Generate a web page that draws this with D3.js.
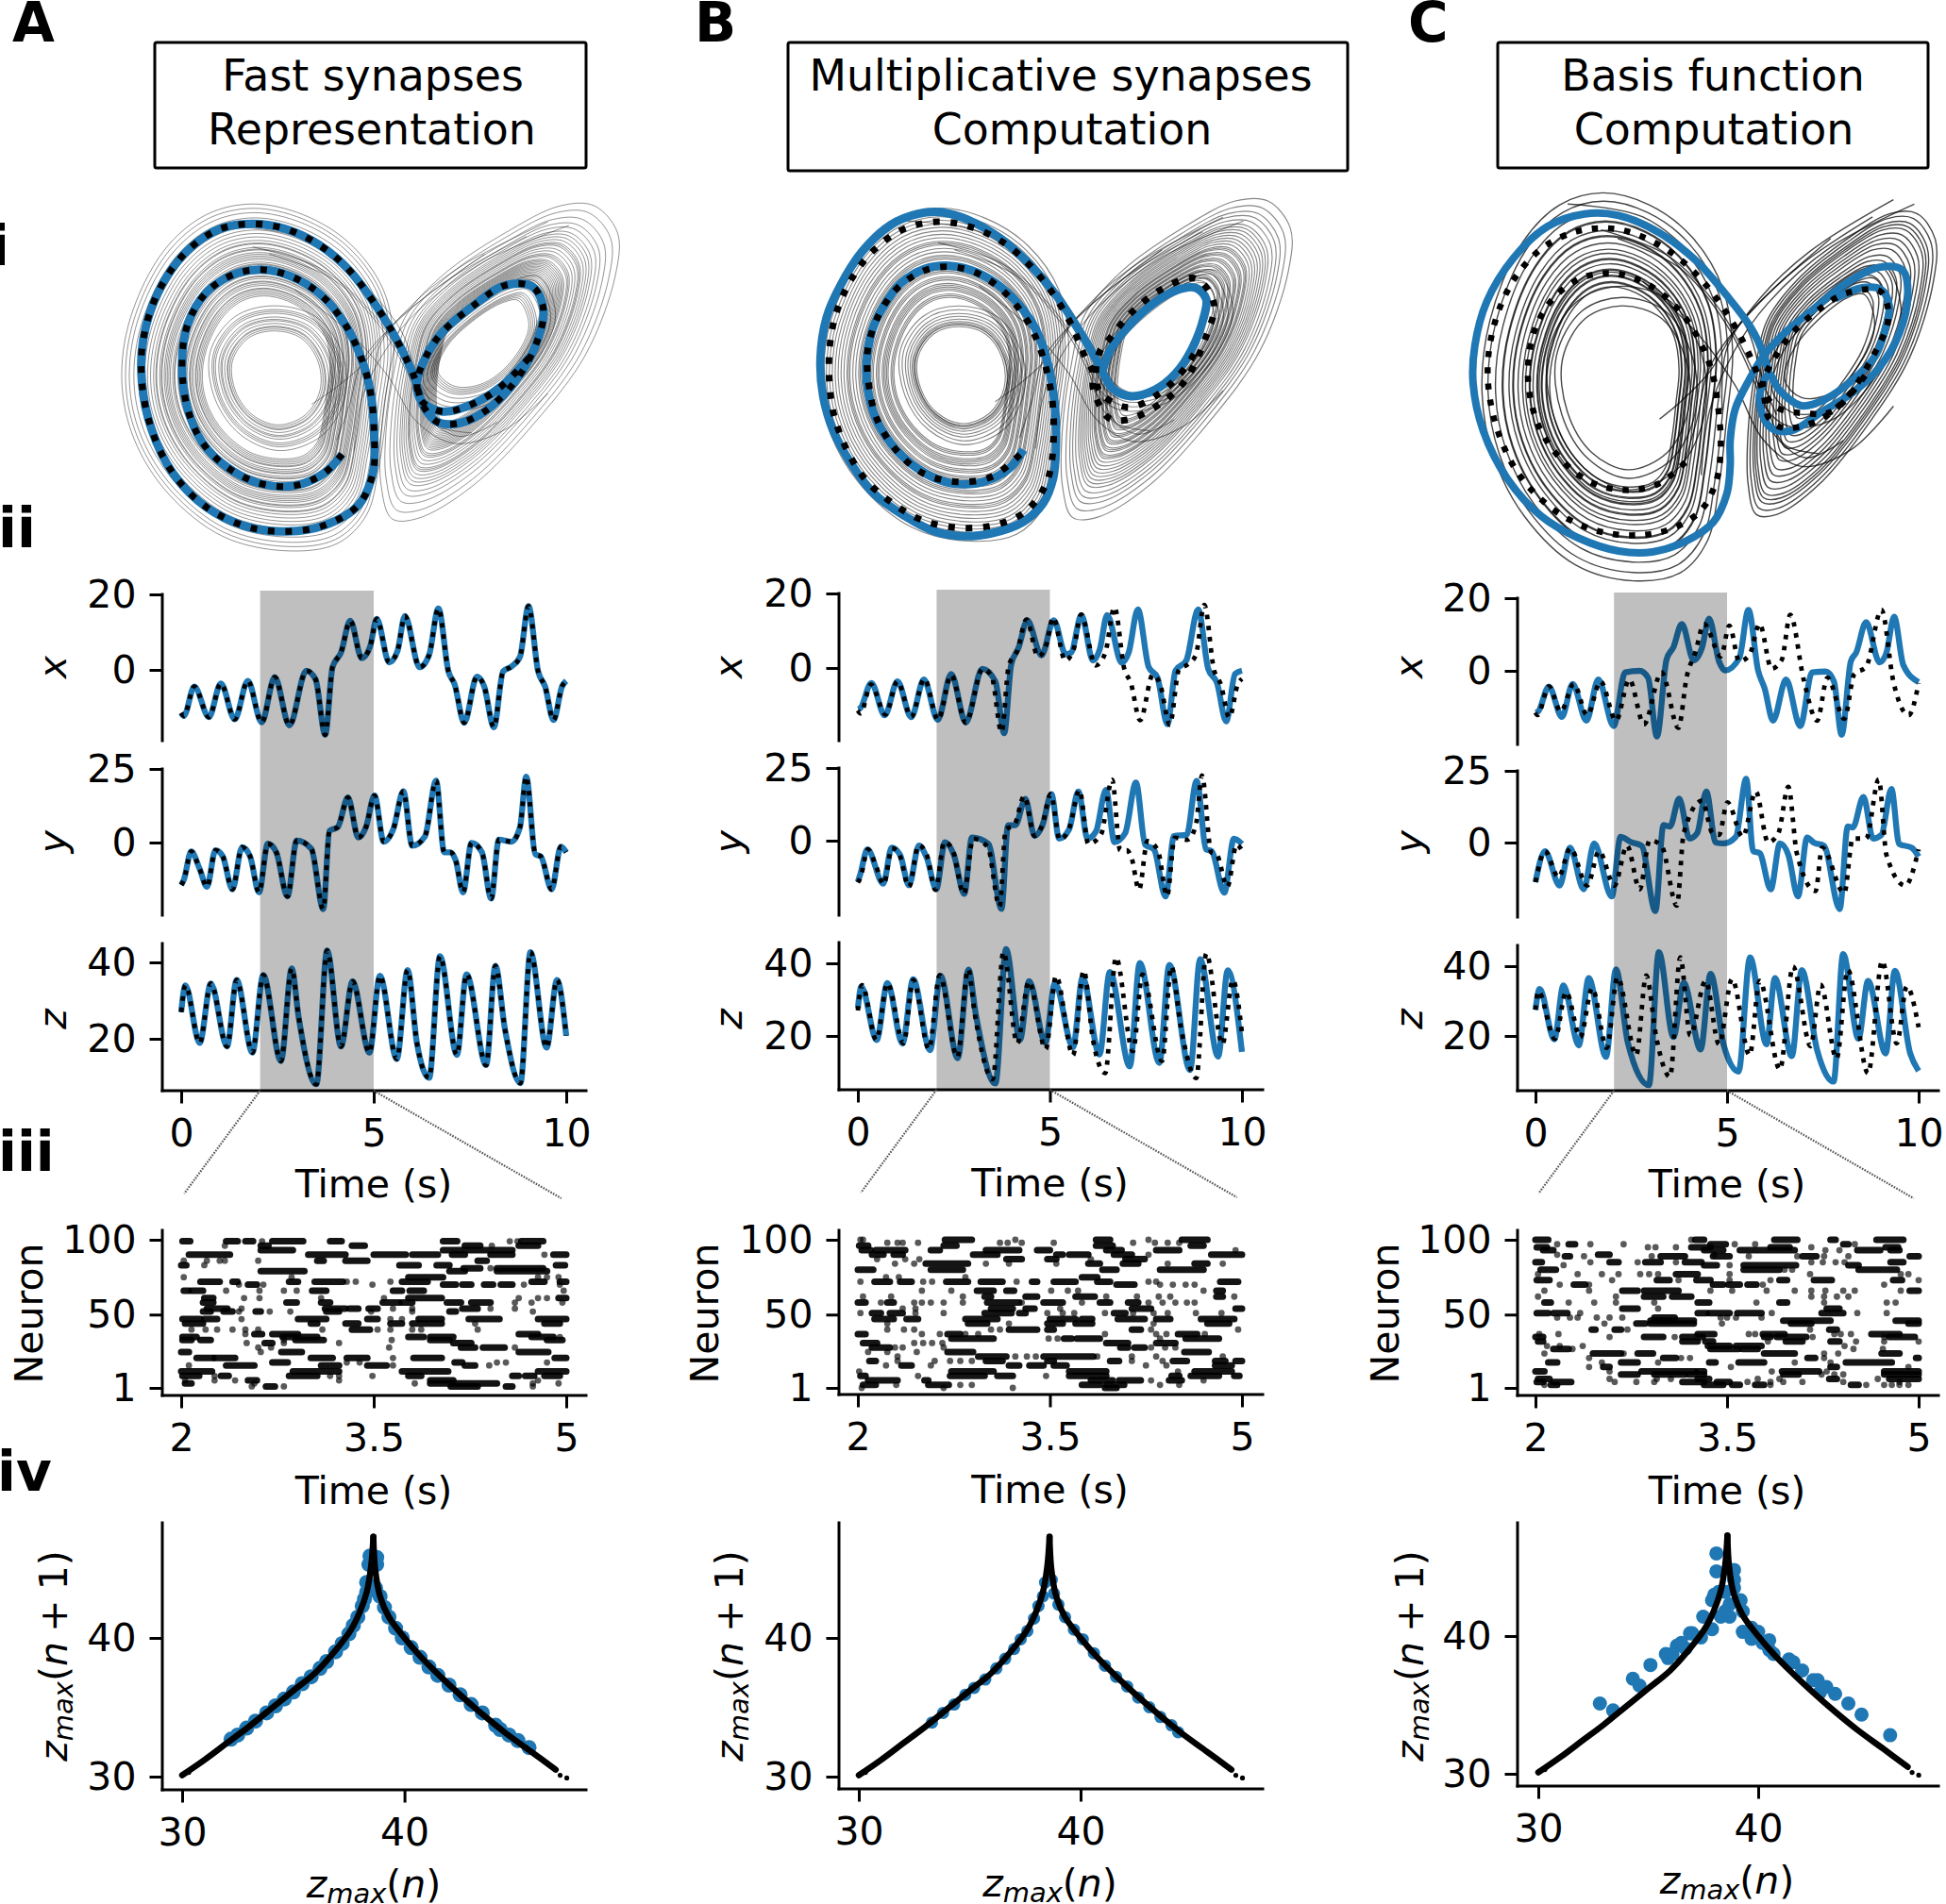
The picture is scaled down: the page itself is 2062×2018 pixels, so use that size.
<!DOCTYPE html>
<html>
<head>
<meta charset="utf-8">
<script src="https://cdn.jsdelivr.net/npm/d3@7"></script>
<style>
  body { margin: 0; background: #fff; }
  svg { display: block; }
  text { font-family: "DejaVu Sans", sans-serif; fill: #000; }
</style>
</head>
<body>
<script>
// time series, [t, value]. A and B share the same target trajectory
var trueX = [[0,-11.4],[.07,-12.2],[.34,-4.4],[.72,-12.5],[1.03,-3.6],[1.39,-13.1],[1.73,-2.9],[2.09,-13.9],[2.43,-1.9],[2.81,-14.7],[3.25,-.2],[3.49,-2.5],[3.74,-17.2],[3.93,.7],[4.15,4.6],[4.39,13],[4.69,3.1],[4.91,6.3],[5.08,13.5],[5.4,2],[5.62,5.1],[5.81,14.3],[6.19,.7],[6.44,4],[6.68,16.3],[6.94,-.4],[7.1,-3.8],[7.35,-14],[7.68,-1.8],[7.87,-4.4],[8.12,-15.2],[8.36,-.4],[8.58,.9],[8.8,3.5],[9.02,16.9],[9.27,-.4],[9.45,-4.4],[9.67,-13.3],[9.89,-4.4],[10,-2.9]];
var trueY = [[0,-14.4],[.07,-12.6],[.26,-3],[.48,-9],[.67,-15],[.89,-2.6],[1.08,-4.7],[1.33,-15.9],[1.58,-1.6],[1.79,-4.7],[2.02,-16.9],[2.25,-.4],[2.47,-3.3],[2.76,-18.3],[3,.7],[3.38,-2.1],[3.69,-22.6],[3.85,3.9],[4.07,5.3],[4.33,15.3],[4.6,1.7],[4.8,5.3],[5.02,16],[5.26,.3],[5.51,4.6],[5.77,17.4],[6,-1.1],[6.33,2.1],[6.62,21],[6.83,-3.3],[7,-3.3],[7.13,-6.1],[7.32,-16.9],[7.54,-.1],[7.81,-3.3],[8.05,-19],[8.25,1],[8.58,.3],[8.8,5.3],[8.96,22.4],[9.2,-4],[9.34,-4.7],[9.62,-15.9],[9.86,-1.4],[10,-3.3]];
var trueZ = [[0,27],[.11,34],[.48,18.9],[.77,34.5],[1.19,18],[1.44,35.4],[1.85,16.4],[2.13,36.7],[2.59,14.2],[2.87,38.4],[3.05,25.7],[3.51,8.1],[3.79,43.1],[4.15,18],[4.45,35],[4.89,16.4],[5.16,36.5],[5.6,14.7],[5.88,38],[6.12,19],[6.44,9.8],[6.72,41.6],[7.16,15.8],[7.41,36.9],[7.92,13.1],[8.16,39.1],[8.41,22.4],[8.81,8.4],[9.07,42.7],[9.49,17.7],[9.76,35.4],[10,20.8]];

var predXB = [[0,-11],[.06,-10.8],[.35,-4],[.7,-12.7],[1.03,-3.6],[1.39,-13.2],[1.72,-3.1],[2.08,-13.9],[2.43,-1.6],[2.81,-14.6],[3.24,-.2],[3.58,-3.6],[3.81,-17.5],[3.99,.8],[4.19,5.6],[4.41,12.8],[4.78,3.4],[5.1,12.8],[5.41,3.7],[5.55,4.1],[5.82,14.2],[6.12,2],[6.3,5.1],[6.49,14.2],[6.87,1.4],[7.05,4.1],[7.29,15.7],[7.57,.3],[7.8,-2.6],[8.06,-15.1],[8.27,-.7],[8.55,2],[8.86,15.7],[9.12,-.2],[9.35,-4],[9.59,-14.3],[9.82,-1.6],[10,-.7]];
var predYB = [[0,-14.2],[.06,-11.7],[.25,-3],[.66,-14.8],[.88,-2.4],[1.1,-4.9],[1.33,-15.4],[1.59,-1.7],[1.8,-6.1],[2.04,-16.7],[2.27,-.5],[2.5,-4.9],[2.77,-18.3],[2.97,1.1],[3.4,-1.1],[3.74,-23.5],[3.91,5.3],[4.1,5.3],[4.36,14.4],[4.6,1.6],[4.8,5.1],[5.04,16],[5.24,.7],[5.5,3.9],[5.74,16.9],[5.98,.7],[6.2,3.2],[6.46,17.5],[6.68,-.5],[6.96,2.6],[7.24,20],[7.48,-1.4],[7.71,-3],[8.01,-19.2],[8.23,1.6],[8.56,2],[8.82,20.6],[9.07,-3],[9.21,-3.6],[9.54,-17.9],[9.79,.7],[10,-1.1]];
var predZB = [[0,27.6],[.09,33.6],[.49,18.9],[.77,34.6],[1.16,17.9],[1.44,35.6],[1.88,16.1],[2.15,36.6],[2.6,13.9],[2.88,38.3],[3.07,26],[3.58,6.9],[3.86,43.9],[4.22,18.9],[4.46,35.1],[4.88,18.1],[5.13,34.6],[5.6,16.9],[5.85,36.1],[6.29,14.9],[6.56,37.6],[7.08,11.6],[7.34,40.1],[7.85,12.6],[8.11,39.6],[8.65,10.6],[8.91,41.1],[9.38,14.3],[9.63,38.1],[10,15.6]];

var predXC = [[0,-11.5],[.07,-11.2],[.35,-4.3],[.69,-12.7],[.97,-3.6],[1.33,-13.7],[1.64,-2.4],[2.04,-15.2],[2.34,-.4],[2.72,0],[2.94,-1.9],[3.17,-18.1],[3.42,3.1],[3.6,6.5],[3.82,12.9],[4.13,2.9],[4.35,6.5],[4.53,14.4],[4.79,2.6],[4.95,.1],[5.32,3.5],[5.56,16.8],[5.81,.1],[5.98,-4.8],[6.2,-13.7],[6.54,-2.4],[6.91,-15.2],[7.22,-.4],[7.57,-.2],[7.79,-2.9],[7.99,-17.6],[8.23,2.6],[8.37,5],[8.63,13.4],[8.98,2.3],[9.16,5],[9.36,14.9],[9.6,1.6],[10,-3.1]];
var trueXC = [[0,-11.5],[.05,-12.2],[.35,-4.3],[.66,-11.2],[1,-3.6],[1.35,-12.2],[1.7,-2.9],[2.1,-13.7],[2.45,-2.4],[2.83,-14.7],[3.29,-.4],[3.73,-15.7],[3.95,-1.5],[4.17,5],[4.4,12.9],[4.84,4],[5.06,12.4],[5.32,2.6],[5.59,4.5],[5.85,12.9],[6.16,.6],[6.43,3.1],[6.65,15.4],[7,-2.4],[7.35,-13.7],[7.62,-1.9],[8.06,-13.2],[8.32,-.9],[8.63,1.1],[9.03,16.8],[9.34,-2.9],[9.74,-12.2],[10,-3.4]];
var predYC = [[0,-13.8],[.25,-3],[.63,-15],[.9,-1.8],[1.26,-16.3],[1.53,-.3],[1.99,-18.8],[2.22,2],[2.5,.1],[2.77,-1.1],[3.13,-23.9],[3.34,6.1],[3.51,5.6],[3.75,15.3],[4.02,1.4],[4.22,3.3],[4.46,17.8],[4.7,0],[4.92,-.3],[5.23,2],[5.5,22.2],[5.68,-3],[5.85,-3.7],[6.14,-16.3],[6.38,-.3],[6.6,-4.3],[6.85,-18.8],[7.09,1.8],[7.26,0],[7.53,-1.1],[7.94,-23.2],[8.15,5.6],[8.28,5.2],[8.56,15.9],[8.81,1.4],[9.03,2.7],[9.29,18.7],[9.49,-.5],[9.82,-1.8],[10,-4.9]];
var trueYC = [[0,-13.8],[.25,-3],[.6,-12.1],[.91,-2],[1.35,-15],[1.66,-3],[2.06,-15],[2.39,-1.1],[2.72,-16.3],[2.98,.8],[3.29,-1.1],[3.69,-22],[3.87,3.3],[4.35,14.6],[4.62,3.3],[4.79,2.7],[5.01,14],[5.41,2],[5.75,17.8],[6.07,.1],[6.34,3.3],[6.6,19.4],[6.82,-3.7],[7.31,-16.9],[7.48,-1.8],[8.06,-17.6],[8.28,1.4],[8.63,1.4],[8.96,22],[9.16,-4.3],[9.65,-15],[10,-2.4]];
var predZC = [[0,27.5],[.11,33.5],[.49,19],[.73,34.5],[1.13,17.3],[1.39,36.6],[1.84,14],[2.1,39.1],[2.41,18.1],[2.96,5.9],[3.22,44],[3.6,19.7],[3.87,35.2],[4.31,16.1],[4.57,37.8],[4.92,17.1],[5.3,9.8],[5.6,42.5],[6.03,17.6],[6.25,36.6],[6.69,14.2],[6.95,38.9],[7.35,16],[7.78,6.9],[8.03,43.5],[8.43,19.2],[8.68,35.8],[9.14,15],[9.38,38.7],[9.78,15],[10,10]];
var trueZC = [[0,27.5],[.07,32.8],[.51,19.2],[.8,32.6],[1.17,19.7],[1.48,33.7],[1.86,16.6],[2.14,36.8],[2.63,14.5],[2.89,37.3],[3.16,19.2],[3.51,8.3],[3.78,42.5],[4.04,20.2],[4.44,35.8],[4.79,17.6],[5.13,36.3],[5.59,14.5],[5.85,35.8],[6.38,10.4],[6.72,39.9],[7.18,17.1],[7.44,34.7],[7.86,13.5],[8.15,38.9],[8.68,9.3],[9.05,41.5],[9.43,17.9],[9.69,34.2],[10,22.5]];

// spike raster rows: neuron, then events. a number is one spike, a pair is a burst from t to t
var rasterA = [
[99,[2.01,2.07],[2.35,2.44],[2.5,2.56],[2.71,2.95],[3.16,3.25],[4.04,4.15],[4.65,4.82],2.63,4.56,4.62],
[96,2.34,[2.62,2.68],[3.33,3.43],[4.21,4.33],4.42,[4.63,4.78]],
[93,[2.62,2.87],[4.04,4.58]],
[90,[2.06,2.38],[2.99,3.28],[3.5,3.75],[3.8,4],[4.11,4.21],[4.41,4.58],4.83,[4.9,5]],
[86,2.02,2.2,2.3,2.34,2.6,[3.06,3.11],[3.28,3.45],[4.31,4.38]],
[83,[2,2.04],2.18,[3.7,3.85],[3.99,4.09],[4.92,4.99]],
[81,[4.2,4.33],4.41,[4.46,4.82]],
[79,[2.62,2.96],[4.09,4.21],[4.46,4.85]],
[75,2.86,2.02,[3.77,4.04],4.78,4.85,4.94],
[72,[2.15,2.3],[2.4,2.44],[2.84,2.91],[3.04,3.26],3.29,3.36,3.63,[3.72,3.92],[4.73,4.83],[4.95,5]],
[70,2.45,[2.52,2.59],2.64,3.49,[4.04,4.14],[4.19,4.26],[4.36,4.43],[4.49,4.58],4.67,4.95],
[66,[2.02,2.06],[2.08,2.17],2.35,2.61,2.8,2.9,[3.02,3.13],[3.65,3.72],[3.78,3.89],4.98],
[61,[2.18,2.25],2.49,2.61,3.09,3.58,[3.77,4.03],4.63,4.78,4.85,[4.94,5]],
[58,[2.17,2.25],[2.82,2.9],[3.09,3.16],[3.57,3.7],[3.72,3.8],[4.07,4.18],[4.26,4.41],4.6,4.73,4.97],
[54,[2.2,2.36],2.47,[3.12,3.28],[3.31,3.38],[3.46,3.53],3.65,3.8,[4.19,4.31],4.41,4.6],
[52,[2.17,2.23],[2.33,2.4],2.45,[2.58,2.62],2.69,2.85,[3.13,3.23],3.48,3.8,[4.09,4.14],4.74],
[47,[2.01,2.15],[2.18,2.28],2.47,[2.91,3.13],[3.45,3.53],3.63,3.72,[3.85,4.03],[4.24,4.48],[4.78,5]],
[44,[2.03,2.17],[3.01,3.06],[3.28,3.38],[3.63,3.72],[3.8,4.03],4.29,[4.83,4.95]],
[40,2.08,2.19,2.28,2.4,2.5,2.6,3.1,[3.33,3.47],3.53,3.63,3.8,3.87,4.31],
[37,2.5,[2.57,2.63],[2.71,2.91],[4.63,4.78]],
[35,[2.01,2.12],[2.79,3.06],[3.77,3.89],[3.94,4.12],[4.73,4.9],4.95],
[33,[2.01,2.08],[2.15,2.23],2.8,[2.89,3.11],3.64,[3.94,4.09],[4.85,4.97]],
[31,2.51,[2.65,2.71],2.8,3.23,[4.12,4.26]],
[28,2.6,2.7,3.62,[4.18,4.29],[4.35,4.52],4.6],
[25,[2,2.06],2.62,[2.78,2.94],[4.63,4.86]],
[21,[2.12,2.25],[2.26,2.42],[3.01,3.18],[3.29,3.45],3.65,[3.81,4.03],[4.91,5]],
[18,[2.71,2.83],3.29,3.39,[4.13,4.19],4.46,4.53,4.85],
[16,2.06,[2.35,2.57],[3.09,3.23],[3.45,3.6],3.65,[4.21,4.29],4.4],
[12,[2,2.24],[2.87,3.23],[3.72,4.08],[4.78,5]],
[9,[2.01,2.14],2.26,[2.31,2.37],[2.84,3.06],3.16,3.23,3.49,[3.77,3.87],[4.58,4.63],[4.68,4.75],[4.83,4.95]],
[6,2.03,2.26,2.42,[2.52,2.59],3.23,[3.94,4.12],4.78],
[4,[2.03,2.08],2.57,3.82,[3.94,4.46],4.74,4.94],
[2,2.55,[2.66,2.73],2.8,[4.1,4.31],[4.53,4.58],4.74]
];
var rasterB = [
[100,2.02,2.04,[2.68,2.89],3.23,[3.86,3.97],[4.53,4.73],4.27],
[98,2.23,2.31,2.35,2.47,3.11,3.17,3.28,3.53,4.15,4.32,4.42,4.51],
[96,[2.01,2.08],[2.67,2.77],[3.86,3.99],[4.6,4.7]],
[93,[2.03,2.1],[2.14,2.37],[2.57,2.64],[3,3.26],[3.4,3.5],[3.94,4.06],[4.33,4.51],4.95],
[90,[2.11,2.2],[2.28,2.35],[2.9,3.09],[3.55,3.6],[3.65,3.8],[4,4.14],4.27,[4.76,5]],
[87,2.15,2.37,2.48,[3.16,3.28],[3.48,3.55],3.82,[4.09,4.24]],
[84,2.29,2.44,[2.53,2.86],3,3.18,3.55,[3.8,3.89],[4.07,4.19],4.42,[4.63,4.73],4.85],
[80,[2,2.12],[2.57,2.82],[3.91,4.02],[4.36,4.7]],
[75,2.22,2.32,2.84,[3.75,3.87]],
[72,2.02,[2.13,2.25],[2.33,2.42],2.51,2.58,[2.69,2.86],[2.96,3.13],3.24,[3.36,3.4],[3.53,3.7],[3.87,3.97],4.27,4.33,[4.83,4.97]],
[70,[4.02,4.16],4.36,4.46,4.56,4.63],
[66,2.5,2.73,[2.93,3.06],[3.16,3.22],3.51,3.64,3.72,4.7,[4.8,4.85]],
[62,2.04,2.26,2.82,[2.99,3.04],[3.31,3.4],[3.7,3.85],3.94,4.18,4.35,4.44,[4.8,4.85],4.94],
[58,[2,2.06],2.18,[2.23,2.28],2.44,2.5,2.57,2.67,2.82,[3.01,3.26],3.28,[3.45,3.6],3.75,[3.89,3.97],[4.11,4.19],4.27,4.38,4.48,4.57,4.63],
[54,2.35,2.45,[3.04,3.21],[3.31,3.38],3.58,[4.14,4.29],[4.95,5]],
[51,2.02,[2.11,2.18],[2.25,2.35],2.45,2.67,[2.99,3.2],[3.26,3.31],3.48,3.6,3.69,3.93,[4,4.09],4.15,4.31,4.42,4.64,4.84],
[47,[2.13,2.28],[2.38,2.47],[2.84,3.09],[3.5,3.7],[3.75,3.83],[4.03,4.24],[4.33,4.44],[4.68,4.94]],
[44,2.23,[2.86,3.01],3.18,[3.48,3.6],[3.7,3.83],4.31,[4.73,4.9]],
[40,2.23,2.36,2.44,3.04,3.11,[3.18,3.4],[3.48,3.53],[4.14,4.21],4.29,4.97],
[37,[2,2.06],2.5,2.64,[2.7,2.8],2.84,2.94,3.93,4.33,4.41,[4.5,4.65],4.71],
[34,[2.73,3.06],3.49,3.56,[3.61,3.67],[3.71,3.89],4.36,[4.56,4.82]],
[31,[2.04,2.15],2.44,2.51,2.58,2.66,[3.94,4.11],[4.33,4.48]],
[28,[2.11,2.25],2.29,2.35,2.67,[4.05,4.11],[4.16,4.24],4.29,4.4,4.48],
[25,2.08,2.23,[2.7,2.9],2.46,[4.55,4.74]],
[22,2.31,[2.94,3.16],3.23,3.32,3.39,[3.45,3.84],3.87,4.14,4.33,4.85],
[19,[2.09,2.14],2.31,2.6,2.72,2.8,2.89,[3,3.13],[3.48,3.53],[3.97,4.04],4.14,4.38,[4.46,4.57],[4.79,4.87],[4.95,5]],
[16,2.22,[2.34,2.42],2.57,[3.18,3.26],[3.34,3.45],[3.53,3.63],4.25,4.41,[4.79,4.92]],
[12,2.01,[2.73,3.06],[3.65,3.94],4.5,[4.63,4.92]],
[9,[2.02,2.06],2.47,[2.72,2.99],[3.09,3.21],3.47,[3.65,3.94],[4.45,4.51],[4.6,4.82],[4.94,4.98]],
[6,[2.08,2.31],[2.52,2.55],[3.82,3.99],[4.04,4.21],4.29,[4.43,4.53],4.7],
[3,[2.04,2.14],2.3,[2.55,2.71],2.8,2.89,[3.75,3.89],[3.94,4.08],4.36,4.51],
[1,2.03,2.67,3.21,[3.93,4.02]]
];
var rasterC = [
[100,[2,2.1],3.22,[3.25,3.32],[3.87,4.05],[4.31,4.35],[4.67,4.88]],
[97,2.17,[2.26,2.31],2.43,2.69,[3.37,3.49],3.56,3.72,[4.41,4.45],4.5],
[95,[2.01,2.09],2.88,2.94,3.1,[3.22,3.37],[3.84,3.99],4.16,[4.74,4.84]],
[93,[2.06,2.14],[3.32,3.47],[3.6,4.03],4.27,4.38,[4.52,4.7],[4.78,4.85]],
[90,2.17,[2.49,2.58],3.4],
[89,[2.23,2.27],2.38,2.91,[2.98,3.17],[3.39,3.52],3.67,4.05,[4.09,4.2],4.26,4.45,[4.93,5]],
[85,[2,2.05],2.43,[2.58,2.65],2.8,[2.86,2.98],3.1,[3.17,3.3],4.16,4.25,4.35,4.42,[4.78,4.88]],
[83,2.22,[3.32,3.42],3.52,[3.63,4.04],[4.45,4.53]],
[80,[2.04,2.16],[3.63,3.91],3.95,4.01,[4.53,4.83]],
[77,2.02,2.33,2.52,2.65,2.82,2.89,2.96,[3.1,3.27],3.52,4.15,4.86,4.92],
[73,[2.01,2.11],2.6,[2.95,3.05],3.12,[3.26,3.37],3.52,3.84,[3.91,3.97],[4.18,4.32],[4.8,4.87],5],
[70,2.19,[2.3,2.39],2.42,[3.39,3.47],[3.51,3.6],[3.66,3.73],3.78,4.73],
[66,2.07,2.42,[2.68,2.8],[2.85,3.12],3.37,3.54,3.81,4.03,4.16,4.27,4.41,4.5,4.86,[4.93,5]],
[62,2.02,2.63,[2.85,3],[3.07,3.22],4.16,4.26,4.36,4.45],
[58,[2.07,2.12],2.26,2.46,2.63,2.93,[3.27,3.36],3.73,[3.91,3.97],4.26,4.75,4.82],
[54,[2.68,2.8],2.96,[4.28,4.38]],
[51,[2.01,2.1],[2.14,2.25],2.35,[3.27,3.34],[3.36,3.52],[3.58,3.77],3.85,[4.24,4.41],4.52,4.75],
[48,2.17,2.27,2.33,2.48,2.58,2.68,[2.93,3.09],3.45,3.5,3.57,3.77],
[46,[2.9,3.24],[3.94,4.31],[4.82,5]],
[44,2.54,[2.79,2.86],[2.9,3.24],3.46,[4,4.16],[4.92,5]],
[40,[2.44,2.47],[2.62,2.67],2.72,[4.3,4.36],4.15],
[37,2.03,2.18,[3.27,3.4],3.67,3.72,[3.78,3.95],4.34,4.39,4.47,[4.63,4.85]],
[35,[2,2.06],2.58,[2.85,3],3.09,[3.15,3.31],[3.79,3.84],[3.89,4.12],4.17,4.73,[4.77,4.97]],
[32,[2.02,2.06],[3.15,3.27],[3.33,3.39],3.82,[3.96,4.09],[4.31,4.38],4.51,4.73,5],
[29,2.09,2.19,2.37,[3.35,3.52],[3.57,3.77],4.42],
[27,[2.14,2.26],2.29,[3.37,3.59],[3.62,3.74],4.49,4.72],
[24,2.07,[2.45,2.67],2.69,[2.8,2.92],[3.79,4.03],4.26,4.37,[4.71,4.85]],
[21,2.42,[3,3.1],3.14,3.21,[4.13,4.19],4.26,[4.98,5]],
[18,[2.1,2.17],2.52,[2.67,2.8],2.96,[3.36,3.41],[3.59,3.79],4.03,4.31,[4.43,4.79]],
[15,2.42,[2.53,2.58],3.53,[4.31,4.36],4.92],
[12,[2,2.07],2.58,[2.83,3.25],[3.27,3.32],3.85,[3.93,4.22],4.28,[4.73,5]],
[10,[2.67,2.8],[2.93,3.17],[3.2,3.32],[3.94,4.06],4.24,4.34,4.41,[4.73,5]],
[7,[2.02,2.11],2.58,2.95,3.06,[3.27,3.36],3.74,3.91,[4.3,4.36],4.68,[4.77,5]],
[5,[2.01,2.06],[2.14,2.28],2.62,2.79,2.93,[3.15,3.32],[3.42,3.52],3.66,3.84,3.94,4.09,4.41,4.85],
[3,2.07,[2.12,2.17],[3.32,3.47],[3.54,3.6],[3.72,3.79],3.84,[4.47,4.53],4.59,4.73,4.79,4.85,4.92]
];

// return map of successive z maxima: [z(n), z(n+1)]
var mapLeft = [[30,30.1],[31,31.2],[32,32.4],[33,33.6],[34,34.9],[35,36.2],[36,37.5],[37,39.3],[37.6,40.6],[38,41.9],[38.3,43.3],[38.5,45.2],[38.6,47.3]];
var mapRight = [[38.6,47.3],[38.68,45],[38.9,43],[39.3,41.5],[40,40],[40.7,38.7],[41.5,37.4],[42.5,35.9],[43.5,34.5],[44.5,33.2],[45.7,31.8],[46.8,30.5]];
var mapEnds = [[30,30.1],[30.3,30.3],[47,30.1],[47.3,29.9],[38.6,47.3]];
var mapPointsA = [[32.2,32.7],[32.5,33],[32.9,33.5],[33.3,34],[33.8,34.6],[34.2,35.1],[34.6,35.6],[35,36.1],[35.4,36.7],[35.8,37.2],[36.2,37.8],[36.5,38.3],[36.9,39],[37.2,39.6],[37.5,40.3],[37.7,40.9],[37.9,41.5],[38.1,42.3],[38.2,42.8],[38.3,43.3],[38.3,44],[38.4,45.3],[38.45,45.9],[38.75,45.8],[38.75,45.3],[38.7,43.6],[38.9,43],[39.1,42.2],[39.3,41.5],[39.6,40.7],[39.9,40],[40.3,39.3],[40.7,38.6],[41.1,37.9],[41.5,37.3],[42,36.6],[42.5,35.9],[43,35.2],[43.5,34.6],[44.1,33.7],[44.3,33.4],[44.7,33],[45.1,32.6],[45.6,32.1]];
var mapPointsB = [[33.3,33.9],[33.8,34.6],[34.3,35.2],[34.8,35.9],[35.2,36.4],[35.7,37],[36.2,37.8],[36.6,38.5],[37,39.2],[37.3,39.9],[37.6,40.5],[37.9,41.4],[38.1,42.3],[38.3,43],[38.4,44],[38.7,44.2],[38.8,43.2],[39,42.4],[39.3,41.5],[39.7,40.6],[40.1,39.9],[40.6,38.9],[41.1,38],[41.6,37.2],[42.1,36.5],[42.6,35.7],[43.1,35],[43.6,34.3],[44.1,33.7],[44.4,33.2]];
var mapPointsC = [[32.8,35.1],[33.4,34.6],[34.3,36.9],[34.6,36.4],[35.1,37.9],[35.8,38.7],[35.9,38.4],[36.1,38.7],[36.3,39.3],[36.5,39.5],[36.7,39.1],[36.9,40.2],[37,40.2],[37.4,39.9],[37.9,40.5],[37.5,41.4],[37.9,42.6],[38,43],[38.2,43.2],[38.3,41.4],[38.5,41.8],[38.7,41.4],[38.7,42.3],[38.5,43.2],[38.1,44.7],[38.1,46],[38.9,44.8],[38.9,44.1],[38.9,43.5],[39.2,42.6],[39.3,41.8],[39.3,40.3],[39.7,39.8],[39.7,40.6],[40,40.3],[40.2,39.5],[40.5,39.7],[40.5,39],[40.7,38.7],[41.4,38.3],[41.6,38.1],[42,37.5],[42.5,36.8],[42.7,36.8],[42.8,35.9],[43.1,36.3],[43.5,35.8],[44.1,35.1],[44.7,34.3],[46,32.8]];

// attractor projections, in plot units of each panel (no axes on these panels)
var blueA = [[812,1258],[770,1310],[700,1345],[620,1340],[540,1295],[480,1225],[445,1130],[432,1010],[445,900],[490,810],[555,760],[620,747],[690,765],[760,815],[820,900],[860,1000],[880,1090],[888,1200],[885,1310],[850,1400],[770,1455],[680,1472],[590,1460],[490,1405],[410,1310],[360,1190],[337,1060],[340,940],[375,810],[440,700],[520,635],[600,620],[680,635],[760,680],[830,750],[900,860],[950,960],[985,1050],[1005,1125],[1040,1170],[1090,1172],[1150,1140],[1220,1060],[1270,960],[1290,860],[1265,795],[1200,790],[1120,850],[1050,920],[1010,990],[990,1060],[1000,1110],[1050,1140],[1120,1120],[1190,1070],[1260,985]];
var blueB = [[682,890],[640,950],[570,990],[500,1000],[430,985],[350,935],[290,870],[245,790],[222,700],[218,620],[235,510],[265,440],[320,360],[390,315],[460,305],[530,320],[600,360],[670,430],[720,510],[755,620],[775,750],[778,880],[770,980],[740,1060],[680,1120],[590,1155],[510,1165],[420,1150],[330,1100],[240,1030],[170,930],[120,830],[90,720],[82,600],[100,470],[140,370],[205,260],[290,175],[370,140],[440,135],[520,160],[610,215],[700,300],[780,400],[840,500],[880,570],[915,640],[945,695],[1000,720],[1070,700],[1130,650],[1180,570],[1215,470],[1222,410],[1190,375],[1130,385],[1060,430],[990,500],[940,570],[915,640]];
var dotB = [[672,905],[590,975],[487,992],[385,965],[305,890],[250,795],[225,685],[222,570],[255,460],[315,370],[405,315],[510,315],[600,365],[675,450],[725,550],[765,715],[770,880],[750,995],[690,1085],[595,1130],[490,1138],[385,1115],[295,1060],[215,985],[160,890],[122,780],[108,670],[110,555],[130,450],[175,345],[240,255],[325,190],[430,165],[530,183],[625,233],[705,308],[770,395],[825,495],[865,597],[888,645],[888,695],[935,790],[988,795],[1085,745],[1160,670],[1220,535],[1245,425],[1190,345],[1090,380],[1005,450],[938,535],[905,585],[905,700],[990,755],[1085,710],[1160,630],[1190,580]];
var blueC = [[1045,650],[1030,590],[990,500],[920,400],[830,290],[720,200],[600,145],[500,140],[390,180],[290,280],[210,420],[175,560],[170,680],[200,830],[270,980],[370,1100],[480,1170],[600,1212],[700,1215],[800,1180],[880,1120],[920,1030],[930,940],[930,860],[945,760],[985,670],[1030,590],[1100,510],[1180,440],[1260,370],[1370,310],[1440,320],[1455,400],[1430,520],[1370,630],[1290,710],[1200,770],[1110,830],[1050,820],[1020,760],[1020,700],[1045,650],[1075,700],[1140,750],[1210,730],[1290,670],[1360,590],[1390,500],[1400,430],[1375,380],[1320,375],[1240,410]];
var dotC = [[797,930],[715,1000],[613,1018],[512,990],[430,920],[370,828],[338,720],[333,610],[357,495],[415,400],[500,340],[605,332],[703,375],[782,450],[840,545],[878,650],[895,760],[902,875],[890,985],[842,1085],[752,1143],[648,1162],[545,1150],[447,1108],[363,1040],[297,955],[250,852],[222,743],[213,630],[226,520],[260,410],[313,315],[390,237],[487,193],[590,188],[690,222],[780,283],[855,362],[918,453],[970,550],[1012,655],[1030,720],[1042,785],[1085,820],[1187,798],[1270,730],[1352,593],[1395,490],[1395,432],[1372,385],[1272,393],[1183,452],[1105,530],[1047,625],[1027,680],[1062,752],[1160,775],[1232,768],[1335,645]];

// grey attractor: lobe outlines (same units as blueA) and the ring sizes read around each eye
var eyeLeft = [650,1045];
var eyeRight = [1140,950];
var leftOuter = [[600,560],[720,590],[830,670],[910,800],[935,960],[920,1120],[900,1290],[870,1430],[800,1510],[680,1530],[530,1490],[400,1370],[320,1220],[290,1060],[310,880],[390,690],[490,590]];
var leftInner = [[650,915],[715,935],[755,1000],[760,1080],[725,1150],[660,1178],[600,1150],[560,1085],[552,1000],[590,935]];
var rightOuter = [[905,1350],[930,1440],[990,1440],[1120,1350],[1270,1170],[1390,980],[1460,760],[1465,640],[1410,565],[1330,565],[1200,640],[1050,760],[960,880],[925,1030],[905,1200]];
var rightInner = [[1230,830],[1255,900],[1220,990],[1150,1060],[1080,1070],[1040,1030],[1060,960],[1130,880],[1195,835]];
var crossStrands = [
  [[700,800],[830,920],[920,1040],[990,1170],[1080,1230],[1200,1190],[1300,1090]],
  [[1150,700],[1020,810],[930,900],[860,1010],[790,1080],[740,1120]],
  [[1250,650],[1080,760],[950,880],[860,1000],[830,1120],[800,1220]],
  [[600,680],[760,740],[880,860],[960,1000],[1000,1100],[1040,1180],[1120,1200]],
  [[1300,610],[1100,730],[980,840],[900,960],[890,1100]],
  [[520,620],[700,650],[840,760],[950,910],[990,1040],[1020,1110]],
  [[1350,620],[1150,720],[1000,850],[920,960],[860,1100],[840,1250]],
  [[640,700],[790,770],[900,900],[970,1040],[1010,1150],[1090,1210],[1180,1170]]
];
var leftOuterRingsA = [.47,.48,.49,.5,.51,.515,.53,.54,.55,.555,.57,.58,.585,.6,.61,.62,.625,.63,.65,.655,.665,.68,.69,.7,.71,.72,.735,.74,.75,.77,.775,.79,.81,.83,.85,.87,.89,.92,.95,.975,1];
var leftInnerRingsA = [1,1.04,1.08,1.1,1.16,1.22,1.25,1.3,1.38,1.42,1.46,1.54];
var rightOuterRingsA = [.44,.45,.46,.47,.48,.49,.5,.51,.52,.53,.54,.55,.56,.57,.58,.59,.6,.62,.63,.64,.66,.68,.7,.71,.72,.74,.76,.78,.8,.83,.86,.9,.95,1];
var rightInnerRingsA = [1,1.04,1.08,1.12,1.16,1.25,1.35,1.45,1.55];
var leftOuterRingsB = [.44,.45,.46,.48,.49,.5,.51,.52,.54,.55,.56,.58,.59,.6,.62,.63,.64,.66,.67,.68,.7,.72,.74,.75,.76,.78,.8,.82,.84,.86,.88,.9,.92,.95];
var leftInnerRingsB = [1.02,1.06,1.07,1.1,1.13,1.18,1.24,1.3,1.38,1.46];
var rightOuterRingsB = [.42,.44,.45,.46,.48,.49,.5,.52,.53,.54,.56,.57,.58,.6,.61,.62,.64,.65,.66,.68,.7,.72,.74,.76,.78,.8,.82,.85,.88,.91,.95,1];
var rightInnerRingsB = [1.2,1.3,1.4,1.5,1.6];
var leftOuterRingsC = [.48,.5,.505,.53,.535,.55,.56,.565,.59,.61,.615,.64,.66,.69,.72,.725,.75,.79,.795,.84,.89,.93];
var leftInnerRingsC = [1.45,1.6,1.8];
var rightOuterRingsC = [.34,.38,.42,.45,.48,.51,.54,.58,.61,.64,.67,.7,.72,.74,.77,.8];
var rightInnerRingsC = [1,1.3,1.55];

var xTicks = [0, 5, 10];
var rasterTicks = [2, 3.5, 5];
var rasterTickLabels = ["2", "3.5", "5"];
var neuronTicks = [1, 50, 100];
var mapTicks = [30, 40];

var BLUE = "#1f77b4";

// one layout per column, pixel positions of the axes in the figure
var columns = [
  { letter: "A", letterX: 13, title: ["Fast synapses", "Representation"], titleX: [395, 394], box: [164, 45, 457, 133],
    t0: 192, t10: 600, spine: 172, axisEnd: 621, base: 1156, greyTop: 626, labelShift: 0,
    xp: [630, 710, 630, 785], yp: [815, 893, 815, 970], zp: [1020, 1101, 1000],
    series: [[trueX, trueX], [trueY, trueY], [trueZ, trueZ]],
    raster: rasterA, rasterBase: 1479, map: mapPointsA, mapR: 8, mapX: [193, 428.6], mapY: [1883, 1736], mapBase: 1897,
    attrX: [0, 1568, 0, 700], attrY: [0, 1568, 0, 600], blue: blueA, dot: blueA, blueW: 9, dotW: 7,
    ringX: [650, 1140, 290, 509], ringY: [1045, 950, 400, 364], ringW: 1, ringO: .42,
    rings: [leftOuterRingsA, leftInnerRingsA, rightOuterRingsA, rightInnerRingsA] },
  { letter: "B", letterX: 736, title: ["Multiplicative synapses", "Computation"], titleX: [1124, 1136], box: [835, 45, 593, 136],
    t0: 909, t10: 1316, spine: 889, axisEnd: 1338, base: 1155, greyTop: 625, labelShift: 716,
    xp: [629, 708, 629, 785], yp: [814, 891, 814, 970], zp: [1021, 1098, 999],
    series: [[trueX, predXB], [trueY, predYB], [trueZ, predZB]],
    raster: rasterB, rasterBase: 1478, map: mapPointsB, mapR: 6.5, mapX: [910, 1145], mapY: [1883, 1736], mapBase: 1896,
    attrX: [0, 1568, 840, 1402], attrY: [0, 1260, 180, 600], blue: blueB, dot: dotB, blueW: 9, dotW: 7,
    ringX: [650, 1140, 1015.6, 1227], ringY: [1045, 950, 397, 360.6], ringW: 1.1, ringO: .48,
    rings: [leftOuterRingsB, leftInnerRingsB, rightOuterRingsB, rightInnerRingsB] },
  { letter: "C", letterX: 1492, title: ["Basis function", "Computation"], titleX: [1815, 1816], box: [1587, 45, 456, 133],
    t0: 1627, t10: 2033, spine: 1608, axisEnd: 2054, base: 1156, greyTop: 628, labelShift: 1437,
    xp: [634, 711, 634, 789], yp: [817, 893, 817, 972], zp: [1024, 1098, 1002],
    series: [[trueXC, predXC], [trueYC, predYC], [trueZC, predZC]],
    raster: rasterC, rasterBase: 1479, map: mapPointsC, mapR: 7.5, mapX: [1630, 1863], mapY: [1880, 1734], mapBase: 1893,
    attrX: [0, 1568, 1500, 2062], attrY: [0, 1320, 180, 620], blue: blueC, dot: dotC, blueW: 8, dotW: 6.5,
    ringX: [650, 1140, 1718.6, 1935.5], ringY: [1045, 950, 410, 366.7], ringW: 1.4, ringO: .72,
    rings: [leftOuterRingsC, leftInnerRingsC, rightOuterRingsC, rightInnerRingsC] }
];

var rowLabels = [["i", -10, 281], ["ii", -2, 580], ["iii", -2, 1241], ["iv", -3, 1580]];

var svg = d3.select("body").append("svg").attr("width", 2062).attr("height", 2018);

function styleAxis(g) {
  g.select(".domain").remove();
  g.selectAll("line").attr("stroke", "#000").attr("stroke-width", 3);
  g.selectAll("text").attr("font-size", 41);
}

function leftAxis(scale, x, ticks, labels) {
  var axis = d3.axisLeft(scale).tickValues(ticks).tickSize(13.5).tickPadding(14);
  if (labels) axis.tickFormat(function(d, i) { return labels[i]; });
  svg.append("g").attr("transform", "translate(" + x + ",0)").call(axis).call(styleAxis);
}

function bottomAxis(scale, y, ticks, labels) {
  var axis = d3.axisBottom(scale).tickValues(ticks).tickSize(13.5).tickPadding(16);
  if (labels) axis.tickFormat(function(d, i) { return labels[i]; });
  svg.append("g").attr("transform", "translate(0," + y + ")").call(axis).call(styleAxis);
}

function spine(x1, y1, x2, y2) {
  svg.append("line").attr("x1", x1).attr("y1", y1).attr("x2", x2).attr("y2", y2)
    .attr("stroke", "#000").attr("stroke-width", 3).attr("stroke-linecap", "square");
}

function drawTitle(c) {
  svg.append("rect").attr("x", c.box[0]).attr("y", c.box[1]).attr("width", c.box[2]).attr("height", c.box[3])
    .attr("rx", 2).attr("fill", "#fff").attr("stroke", "#000").attr("stroke-width", 3);
  c.title.forEach(function(line, i) {
    svg.append("text").attr("x", c.titleX[i]).attr("y", 96 + i * 57).attr("text-anchor", "middle")
      .attr("font-size", 45.8).text(line);
  });
  svg.append("text").attr("x", c.letterX).attr("y", 44).attr("font-size", 58).attr("font-weight", "bold").text(c.letter);
}

function ringPath(outline, eye, s, x, y) {
  var line = d3.line()
    .x(function(d) { return x(eye[0] + (d[0] - eye[0]) * s); })
    .y(function(d) { return y(eye[1] + (d[1] - eye[1]) * s); })
    .curve(d3.curveCatmullRomClosed);
  return line(outline);
}

function drawAttractor(c) {
  var g = svg.append("g").attr("fill", "none");
  var rx = d3.scaleLinear().domain([c.ringX[0], c.ringX[1]]).range([c.ringX[2], c.ringX[3]]);
  var ry = d3.scaleLinear().domain([c.ringY[0], c.ringY[1]]).range([c.ringY[2], c.ringY[3]]);
  var families = [[leftOuter, eyeLeft, c.rings[0]], [leftInner, eyeLeft, c.rings[1]], [rightOuter, eyeRight, c.rings[2]], [rightInner, eyeRight, c.rings[3]]];

  families.forEach(function(f) {
    g.selectAll(null).data(f[2]).enter().append("path")
      .attr("d", function(s) { return ringPath(f[0], f[1], s, rx, ry); })
      .attr("stroke", "#000").attr("stroke-width", c.ringW).attr("stroke-opacity", c.ringO);
  });

  var strand = d3.line()
    .x(function(d) { return rx(d[0]); })
    .y(function(d) { return ry(d[1]); })
    .curve(d3.curveCatmullRom);
  g.selectAll(null).data(crossStrands).enter().append("path")
    .attr("d", strand)
    .attr("stroke", "#000").attr("stroke-width", c.ringW).attr("stroke-opacity", c.ringO);

  var ax = d3.scaleLinear().domain([c.attrX[0], c.attrX[1]]).range([c.attrX[2], c.attrX[3]]);
  var ay = d3.scaleLinear().domain([c.attrY[0], c.attrY[1]]).range([c.attrY[2], c.attrY[3]]);
  var path = d3.line()
    .x(function(d) { return ax(d[0]); })
    .y(function(d) { return ay(d[1]); })
    .curve(d3.curveCatmullRom);
  g.append("path").attr("d", path(c.blue)).attr("stroke", BLUE).attr("stroke-width", c.blueW);
  g.append("path").attr("d", path(c.dot)).attr("stroke", "#000").attr("stroke-width", c.dotW)
    .attr("stroke-dasharray", c.dotW + " " + (c.dotW * 1.65));
}

function drawSeries(c) {
  var x = d3.scaleLinear().domain([0, 10]).range([c.t0, c.t10]);
  var scales = [
    d3.scaleLinear().domain([0, 20]).range([c.xp[1], c.xp[0]]),
    d3.scaleLinear().domain([0, 25]).range([c.yp[1], c.yp[0]]),
    d3.scaleLinear().domain([20, 40]).range([c.zp[1], c.zp[0]])
  ];

  c.series.forEach(function(pair, i) {
    var line = d3.line()
      .x(function(d) { return x(d[0]); })
      .y(function(d) { return scales[i](d[1]); })
      .curve(d3.curveMonotoneX);
    svg.append("path").attr("d", line(pair[1])).attr("fill", "none")
      .attr("stroke", BLUE).attr("stroke-width", 6.3);
    svg.append("path").attr("d", line(pair[0])).attr("fill", "none")
      .attr("stroke", "#000").attr("stroke-width", 4.8).attr("stroke-dasharray", "4.8 7");
  });

  svg.append("rect").attr("x", x(2.05)).attr("y", c.greyTop)
    .attr("width", x(5) - x(2.05)).attr("height", c.base - c.greyTop)
    .attr("fill", "#000").attr("fill-opacity", .25);

  spine(c.spine, c.xp[2], c.spine, c.xp[3]);
  spine(c.spine, c.yp[2], c.spine, c.yp[3]);
  spine(c.spine, c.zp[2], c.spine, c.base);
  spine(c.spine, c.base, c.axisEnd, c.base);
  leftAxis(scales[0], c.spine, [0, 20]);
  leftAxis(scales[1], c.spine, [0, 25]);
  leftAxis(scales[2], c.spine, [20, 40]);
  bottomAxis(x, c.base, xTicks);

  ["x", "y", "z"].forEach(function(name, i) {
    var mid = [707, 892, 1080][i];
    svg.append("text")
      .attr("transform", "translate(" + (70 + c.labelShift) + "," + mid + ") rotate(-90)")
      .attr("text-anchor", "middle").attr("font-size", 41).attr("font-style", "italic").text(name);
  });

  axisLabel("Time (s)", (c.t0 + c.t10) / 2, c.base + 113);

  var dots = [[2.05, .08, 109], [5, 9.87, 114]];
  dots.forEach(function(d) {
    svg.append("line").attr("x1", x(d[0])).attr("y1", c.base).attr("x2", x(d[1])).attr("y2", c.base + d[2])
      .attr("stroke", "#555").attr("stroke-width", 2.2).attr("stroke-dasharray", "1.6 1.4");
  });
}

function axisLabel(label, x, y) {
  svg.append("text").attr("x", x).attr("y", y).attr("text-anchor", "middle").attr("font-size", 41).text(label);
}

function drawRaster(c) {
  var x = d3.scaleLinear().domain([2, 5]).range([c.t0, c.t10]);
  var y = d3.scaleLinear().domain([1, 100]).range([1471, 1314]);
  var events = [];
  c.raster.forEach(function(row) {
    row.slice(1).forEach(function(e) { events.push({ n: row[0], e: e }); });
  });

  svg.append("g").selectAll("line")
    .data(events.filter(function(d) { return Array.isArray(d.e); }))
    .enter().append("line")
    .attr("x1", function(d) { return x(d.e[0]); })
    .attr("x2", function(d) { return x(d.e[1]); })
    .attr("y1", function(d) { return y(d.n); })
    .attr("y2", function(d) { return y(d.n); })
    .attr("stroke", "#000").attr("stroke-width", 7).attr("stroke-linecap", "round").attr("stroke-opacity", .92);

  svg.append("g").selectAll("circle")
    .data(events.filter(function(d) { return !Array.isArray(d.e); }))
    .enter().append("circle")
    .attr("cx", function(d) { return x(d.e); })
    .attr("cy", function(d) { return y(d.n); })
    .attr("r", 3.4).attr("fill", "#000").attr("fill-opacity", .65);

  spine(c.spine, 1304, c.spine, c.rasterBase);
  spine(c.spine, c.rasterBase, c.axisEnd, c.rasterBase);
  leftAxis(y, c.spine, neuronTicks);
  bottomAxis(x, c.rasterBase, rasterTicks, rasterTickLabels);

  svg.append("text").attr("transform", "translate(" + (45 + c.labelShift) + ",1392) rotate(-90)")
    .attr("text-anchor", "middle").attr("font-size", 41).text("Neuron");
  axisLabel("Time (s)", (c.t0 + c.t10) / 2, c.rasterBase + 115);
}

function mathLabel(sel, tail) {
  sel.attr("text-anchor", "middle").attr("font-size", 41);
  sel.append("tspan").attr("font-style", "italic").text("z");
  sel.append("tspan").attr("font-style", "italic").attr("font-size", 29).attr("dy", 6).text("max");
  sel.append("tspan").attr("dy", -6).text("(");
  sel.append("tspan").attr("font-style", "italic").text("n");
  sel.append("tspan").text(tail);
}

function drawMap(c) {
  var x = d3.scaleLinear().domain([30, 40]).range(c.mapX);
  var y = d3.scaleLinear().domain([30, 40]).range(c.mapY);
  var line = d3.line()
    .x(function(d) { return x(d[0]); })
    .y(function(d) { return y(d[1]); })
    .curve(d3.curveCatmullRom);

  svg.append("g").selectAll("circle").data(c.map).enter().append("circle")
    .attr("cx", function(d) { return x(d[0]); })
    .attr("cy", function(d) { return y(d[1]); })
    .attr("r", c.mapR).attr("fill", BLUE);

  [mapLeft, mapRight].forEach(function(branch) {
    svg.append("path").attr("d", line(branch)).attr("fill", "none")
      .attr("stroke", "#000").attr("stroke-width", 6.5).attr("stroke-linecap", "round");
  });
  svg.append("g").selectAll("circle").data(mapEnds).enter().append("circle")
    .attr("cx", function(d) { return x(d[0]); })
    .attr("cy", function(d) { return y(d[1]); })
    .attr("r", 2.6).attr("fill", "#000");

  spine(c.spine, 1614, c.spine, c.mapBase);
  spine(c.spine, c.mapBase, c.axisEnd, c.mapBase);
  leftAxis(y, c.spine, mapTicks);
  bottomAxis(x, c.mapBase, mapTicks);

  mathLabel(svg.append("text").attr("x", (c.t0 + c.t10) / 2).attr("y", c.mapBase + 114), ")");
  mathLabel(svg.append("text").attr("transform", "translate(" + (71 + c.labelShift) + ",1755) rotate(-90)"), "\u2005+\u20051)");
}

columns.forEach(function(c) {
  drawTitle(c);
  drawAttractor(c);
  drawSeries(c);
  drawRaster(c);
  drawMap(c);
});

rowLabels.forEach(function(d) {
  svg.append("text").attr("x", d[1]).attr("y", d[2]).attr("font-size", 58).attr("font-weight", "bold").text(d[0]);
});
</script>
</body>
</html>
